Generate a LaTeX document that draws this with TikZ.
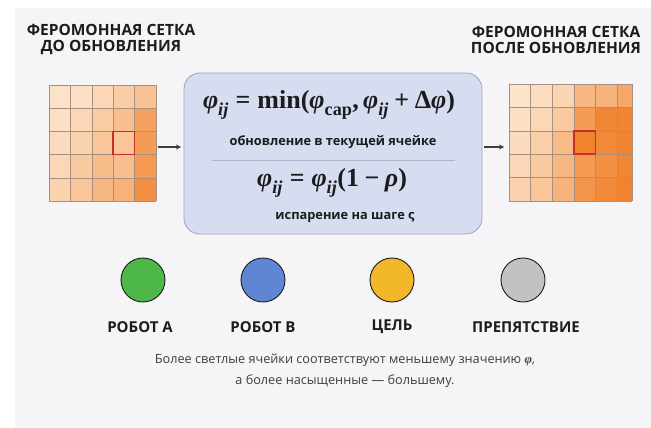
\documentclass[tikz,border=0pt]{standalone}
\usepackage{amsmath}
\usepackage[no-math]{fontspec}
\setmainfont{Open Sans}
\newfontfamily\fserif{Liberation Serif}
\usetikzlibrary{arrows.meta}
\definecolor{bgc}{HTML}{F5F5F7}
\definecolor{peach}{HTML}{FDE8D2}
\definecolor{deeporange}{HTML}{F07A20}
\definecolor{gridline}{HTML}{A89080}
\definecolor{redsq}{HTML}{C62E28}
\definecolor{boxfill}{HTML}{D6DDF0}
\definecolor{boxdraw}{HTML}{9AA5BD}
\definecolor{txt}{HTML}{1C1C1C}
\definecolor{cgreen}{HTML}{4DB848}
\definecolor{cblue}{HTML}{5E86D4}
\definecolor{cyellow}{HTML}{F3B72C}
\definecolor{cgray}{HTML}{C2C2C2}
\newcommand{\bi}[1]{\text{\fserif\bfseries\itshape #1}}
\newcommand{\bu}[1]{\text{\fserif\bfseries #1}}
\newcommand{\formulaA}{$\bi{φ}_{\bi{ij}} \mathrel{\bu{=}} \bu{min}\bu{(}\bi{φ}_{\bu{cap}}\bu{,}\,\bi{φ}_{\bi{ij}} \mathbin{\bu{+}} \bu{Δ}\bi{φ}\bu{)}$}
\newcommand{\formulaB}{$\bi{φ}_{\bi{ij}} \mathrel{\bu{=}} \bi{φ}_{\bi{ij}}\bu{(1} \mathbin{\bu{−}} \bi{ρ}\bu{)}$}
\tikzset{
  title/.style={font=\fontsize{15.5}{16}\selectfont\bfseries, text=txt, align=center, inner sep=0pt},
  legendlbl/.style={font=\fontsize{15}{17}\selectfont\bfseries, text=txt, inner sep=0pt},
  legenddot/.style={circle, draw=txt, line width=0.9pt, minimum size=44pt, inner sep=0pt},
  formula/.style={inner sep=0pt, text=txt, font=\fontsize{26}{29}\selectfont},
  captiontext/.style={font=\fontsize{12.8}{15}\selectfont\bfseries, text=txt, inner sep=0pt},
  cellline/.style={draw=gridline, line width=0.5pt},
  hilite/.style={draw=redsq, line width=1.6pt},
  flow/.style={draw=txt!85, line width=1.2pt, -{Stealth[length=5pt,width=5pt]}},
}
\begin{document}
\begin{tikzpicture}[x=1pt,y=-1pt]
\useasboundingbox (0,0) rectangle (651,428);
\fill[white] (0,0) rectangle (651,428);
\fill[bgc] (15,8) rectangle (651,428);

% titles
\node[title] (t1) at (111,39) {ФЕРОМОННАЯ СЕТКА\\ДО ОБНОВЛЕНИЯ};
\node[title] (t2) at (556,40) {ФЕРОМОННАЯ СЕТКА\\ПОСЛЕ ОБНОВЛЕНИЯ};

% left grid
\foreach \row [count=\r from 0] in {{5,8,15,25,35},{8,15,25,38,65},{12,20,32,32,70},{15,28,40,38,72},{20,32,45,50,82}}{
  \foreach \v [count=\c from 0] in \row {
    \fill[deeporange!\v!peach] ({49+21.4*\c},{85+23.2*\r}) rectangle ++(21.4,23.2);
  }
}
\foreach \c in {0,...,5}{ \draw[cellline] ({49+21.4*\c},85) -- ({49+21.4*\c},201); }
\foreach \r in {0,...,5}{ \draw[cellline] (49,{85+23.2*\r}) -- (156,{85+23.2*\r}); }
\draw[hilite] (113.2,131.4) rectangle ++(21.4,23.2);

% right grid
\foreach \row [count=\r from 0] in {{4,10,18,45,48,58},{8,15,28,70,88,90},{12,22,42,92,86,92},{15,28,45,72,80,88},{20,32,48,75,85,92}}{
  \foreach \v [count=\c from 0] in \row {
    \fill[deeporange!\v!peach] ({509+21.6*\c},{84+23.4*\r}) rectangle ++(21.6,23.4);
  }
}
\fill[bgc] (632,80) rectangle (651,205);
\foreach \c in {0,...,5}{ \draw[cellline] ({509+21.6*\c},84) -- ({509+21.6*\c},201); }
\draw[cellline] (632,84) -- (632,201);
\foreach \r in {0,...,5}{ \draw[cellline] (509,{84+23.4*\r}) -- (632,{84+23.4*\r}); }
\draw[hilite] (573.8,130.8) rectangle ++(21.6,23.4);

% central box
\node[draw=boxdraw, fill=boxfill, line width=0.8pt, rounded corners=16pt,
      minimum width=298pt, minimum height=161pt, inner sep=0pt] (box) at (333,153.5) {};
\node[formula] (f1) at (329,105) {\formulaA};
\node[captiontext] (c1) at (333,142) {обновление в текущей ячейке};
\coordinate (s1) at (212,160);
\coordinate (s2) at (455,160);
\draw[draw=boxdraw!80, line width=0.5pt] (s1) -- (s2);
\node[formula] (f2) at (332,183) {\formulaB};
\node[captiontext] (c2) at (345,217) {испарение на шаге ς};

% arrows
\coordinate (la) at (158,147);
\coordinate (lb) at (181,147);
\coordinate (ra) at (484,147);
\coordinate (rb) at (504,147);
\draw[flow] (la) -- (lb);
\draw[flow] (ra) -- (rb);

% legend
\node[legenddot, fill=cgreen] (d1) at (143,280) {};
\node[legenddot, fill=cblue] (d2) at (263,280) {};
\node[legenddot, fill=cyellow] (d3) at (392,280) {};
\node[legenddot, fill=cgray] (d4) at (523,280) {};
\node[legendlbl] (l1) at (140,327) {РОБОТ А};
\node[legendlbl] (l2) at (263,327) {РОБОТ В};
\node[legendlbl] (l3) at (392,327) {ЦЕЛЬ};
\node[legendlbl] (l4) at (526,327) {ПРЕПЯТСТВИЕ};

% note
\node[inner sep=0pt, text=txt!85, align=center, font=\fontsize{12.7}{21}\selectfont] (note) at (345,371)
  {Более светлые ячейки соответствуют меньшему значению {\fserif\bfseries\itshape φ},\\а более насыщенные — большему.};
\end{tikzpicture}
\end{document}
